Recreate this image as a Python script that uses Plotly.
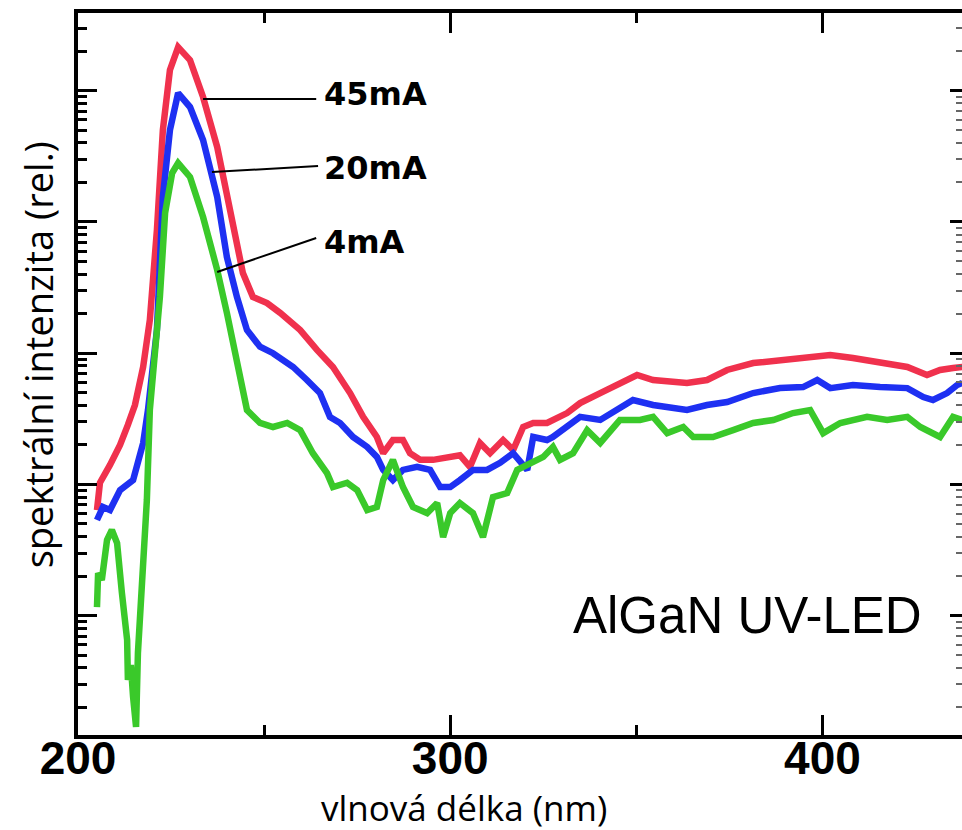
import plotly.graph_objects as go

# ---- data (relative intensity, log scale) ----
wl_45 = [205.1, 205.9, 208.6, 211.3, 213.4, 215.3, 217.5, 219.3, 221.2, 222.8, 224.7, 226.9,
         230.1, 233.6, 237.4, 240.8, 244.3, 247.0, 250.8, 254.3, 259.7, 264.2, 268.5, 273.1,
         276.6, 280.3, 282.0, 284.6, 287.3, 289.2, 291.9, 295.4, 299.2, 302.6, 305.3, 308.0,
         310.7, 314.2, 316.9, 319.6, 322.3, 326.0, 331.4, 334.9, 340.3, 345.6, 350.2, 354.5,
         359.1, 363.6, 369.0, 374.4, 381.4, 388.6, 394.8, 402.1, 408.2, 415.5, 422.8, 428.1,
         431.6, 435.1, 437.6]
int_45 = [6.38, 10.3, 14.1, 20.0, 28.4, 40.3, 78.5, 179, 869, 5010, 14400, 21500,
          17100, 8950, 3720, 1300, 408, 268, 241, 203, 150, 106, 78.5, 49.7,
          32.7, 23.0, 17.3, 21.8, 21.8, 17.3, 15.4, 15.4, 16.2, 16.7, 13.6, 20.7,
          17.3, 21.8, 18.3, 27.4, 29.4, 29.4, 35.0, 41.7, 49.7, 59.3, 68.2, 62.5,
          60.4, 59.3, 62.5, 74.5, 84.1, 88.7, 91.9, 96.9, 91.9, 85.7, 78.5, 68.2,
          74.5, 77.1, 78.5]

wl_20 = [205.1, 206.7, 208.6, 211.3, 214.8, 217.5, 218.8, 221.2, 222.8, 224.7, 226.9, 230.1,
         233.6, 237.4, 240.0, 242.7, 245.4, 248.9, 252.4, 255.1, 257.8, 261.5, 265.0, 267.7,
         270.4, 273.9, 277.7, 280.3, 282.0, 284.6, 287.3, 291.1, 294.6, 297.3, 300.0, 302.6,
         306.1, 309.9, 313.4, 316.9, 320.7, 322.3, 326.0, 327.6, 331.4, 334.9, 340.3, 345.6,
         349.1, 354.5, 359.9, 363.6, 369.0, 374.4, 381.4, 388.6, 394.8, 398.6, 402.1, 408.2,
         415.5, 422.8, 427.1, 429.7, 433.5, 436.2, 437.6]
int_20 = [5.36, 6.73, 6.38, 9.06, 10.8, 20.7, 36.9, 150, 1550, 5010, 9600, 7510,
          4210, 1550, 541, 268, 150, 112, 100, 88.7, 78.5, 62.5, 49.7, 32.7,
          29.4, 23.0, 19.3, 16.2, 12.9, 10.8, 12.9, 13.6, 12.9, 9.55, 9.55, 10.8,
          12.9, 12.9, 14.6, 17.3, 12.9, 23.0, 21.8, 23.0, 27.4, 32.7, 31.0, 38.9,
          44.0, 40.3, 38.2, 36.9, 40.3, 42.5, 49.7, 54.2, 55.2, 62.5, 54.2, 57.2,
          55.2, 54.2, 46.3, 44.0, 49.7, 57.2, 59.3]

wl_4 = [205.1, 205.4, 206.4, 207.8, 209.1, 210.5, 211.8, 213.2, 213.4, 214.2, 214.8, 215.6,
        216.1, 216.9, 217.5, 218.5, 219.3, 222.0, 223.4, 225.3, 226.9, 230.1, 233.6, 237.4,
        240.0, 242.7, 245.4, 248.9, 252.4, 256.2, 259.7, 263.1, 266.9, 268.5, 272.3, 275.0,
        277.7, 280.3, 282.0, 284.6, 287.3, 290.0, 293.8, 296.5, 298.1, 300.0, 302.6, 306.1,
        308.8, 311.5, 315.3, 318.0, 321.5, 325.0, 327.6, 329.5, 333.0, 336.8, 340.3, 345.6,
        351.0, 354.5, 358.3, 362.6, 365.3, 370.6, 376.0, 381.4, 386.8, 392.1, 396.7, 400.2,
        404.8, 412.0, 417.4, 422.8, 426.3, 431.6, 435.1, 437.6]
int_4 = [1.16, 2.11, 1.87, 3.77, 4.50, 3.58, 1.49, 0.653, 0.324, 0.421, 0.240, 0.142,
         0.520, 1.32, 1.97, 7.61, 36.9, 268, 1170, 2360, 2810, 2200, 1090, 431,
         203, 84.1, 36.9, 29.4, 27.4, 29.4, 25.9, 17.3, 12.2, 9.55, 10.3, 9.06,
         6.38, 6.73, 10.8, 15.4, 9.55, 6.73, 6.05, 7.22, 3.97, 6.05, 7.22, 6.05,
         3.97, 8.02, 8.60, 12.9, 14.6, 16.2, 19.3, 15.4, 17.3, 25.9, 20.7, 31.0,
         31.0, 32.7, 24.6, 27.4, 23.0, 23.0, 25.9, 29.4, 31.0, 35.0, 36.9, 24.6,
         29.4, 32.7, 31.0, 32.7, 27.4, 23.0, 32.7, 31.0]

series_names = ["45mA", "20mA", "4mA"]
series_colors = ["#f0314d", "#1e30f2", "#3ac92a"]

# leader lines from curve to label (wavelength, intensity)
lead_x = [[233.6, 264.0], [236.0, 264.5], [237.4, 264.0]]
lead_y = [[8630, 8630], [2400, 2670], [416, 755]]

x_ticks = [200, 300, 400]
x_minor = [250, 350]
y_major = [1, 10, 100, 1000, 10000]
y_minor = [0.2, 0.3, 0.4, 0.5, 0.6, 0.7, 0.8, 0.9,
           2, 3, 4, 5, 6, 7, 8, 9,
           20, 30, 40, 50, 60, 70, 80, 90,
           200, 300, 400, 500, 600, 700, 800, 900,
           2000, 3000, 4000, 5000, 6000, 7000, 8000, 9000,
           20000, 30000]

fig = go.Figure()
for wl, iv, nm, col in zip([wl_45, wl_20, wl_4], [int_45, int_20, int_4], series_names, series_colors):
    fig.add_trace(go.Scatter(x=wl, y=iv, mode="lines", name=nm,
                             line=dict(color=col, width=6.5), showlegend=False))
for lx, ly in zip(lead_x, lead_y):
    fig.add_trace(go.Scatter(x=lx, y=ly, mode="lines", line=dict(color="black", width=2),
                             showlegend=False, hoverinfo="skip"))
# invisible trace for the right-hand tick axis
fig.add_trace(go.Scatter(x=[300], y=[10], yaxis="y2", mode="markers",
                         marker=dict(opacity=0), showlegend=False, hoverinfo="skip"))

yrange = [-0.909, 4.592]
fig.update_layout(
    width=962, height=830,
    margin=dict(l=78, r=0, t=13, b=95),
    paper_bgcolor="white", plot_bgcolor="white",
    xaxis=dict(range=[200, 437.5], tickvals=x_ticks, ticktext=[str(v) for v in x_ticks],
               ticks="inside", ticklen=20, tickwidth=3, tickcolor="black",
               showline=True, linewidth=4, linecolor="black", mirror="ticks",
               showgrid=False, zeroline=False, ticklabelstandoff=-20,
               tickfont=dict(family="Liberation Sans", size=46, color="black", weight="bold"),
               minor=dict(tickvals=x_minor, ticks="inside", ticklen=10, tickwidth=3,
                          tickcolor="black", showgrid=False)),
    yaxis=dict(type="log", range=yrange, tickvals=y_major, showticklabels=False,
               ticks="inside", ticklen=19, tickwidth=3, tickcolor="black",
               showline=True, linewidth=4, linecolor="black", mirror=False,
               showgrid=False, zeroline=False,
               minor=dict(tickvals=y_minor, ticks="inside", ticklen=9, tickwidth=2.5,
                          tickcolor="black", showgrid=False)),
    yaxis2=dict(type="log", range=yrange, overlaying="y", side="right",
                tickvals=y_major, showticklabels=False, ticks="inside", ticklen=12,
                tickwidth=3, tickcolor="black", showline=False, showgrid=False,
                zeroline=False,
                minor=dict(tickvals=y_minor, ticks="inside", ticklen=6, tickwidth=2,
                           tickcolor="#666666", showgrid=False)),
    annotations=[
        dict(text="45mA", x=0.276, y=0.888, xref="paper", yref="paper", xanchor="left",
             yanchor="middle", showarrow=False,
             font=dict(family="DejaVu Sans", size=32, color="black", weight="bold")),
        dict(text="20mA", x=0.276, y=0.786, xref="paper", yref="paper", xanchor="left",
             yanchor="middle", showarrow=False,
             font=dict(family="DejaVu Sans", size=32, color="black", weight="bold")),
        dict(text="4mA", x=0.276, y=0.683, xref="paper", yref="paper", xanchor="left",
             yanchor="middle", showarrow=False,
             font=dict(family="DejaVu Sans", size=32, color="black", weight="bold")),
        dict(text="AlGaN UV-LED", x=0.7568, y=0.165, xref="paper", yref="paper",
             xanchor="center", yanchor="middle", showarrow=False,
             font=dict(family="Liberation Sans", size=51, color="black")),
        dict(text="vlnová délka (nm)", x=0.4367, y=-0.1, xref="paper", yref="paper",
             xanchor="center", yanchor="middle", showarrow=False,
             font=dict(family="Open Sans", size=35, color="black")),
        dict(text="spektrální intenzita (rel.)", x=-0.0452, y=0.526, xref="paper", yref="paper",
             xanchor="center", yanchor="middle", showarrow=False, textangle=-90,
             font=dict(family="Open Sans", size=38, color="black")),
    ],
)

fig.write_html("out.html", config={"displayModeBar": False},
               post_script="document.body.style.margin='0';document.body.style.overflow='hidden';")
